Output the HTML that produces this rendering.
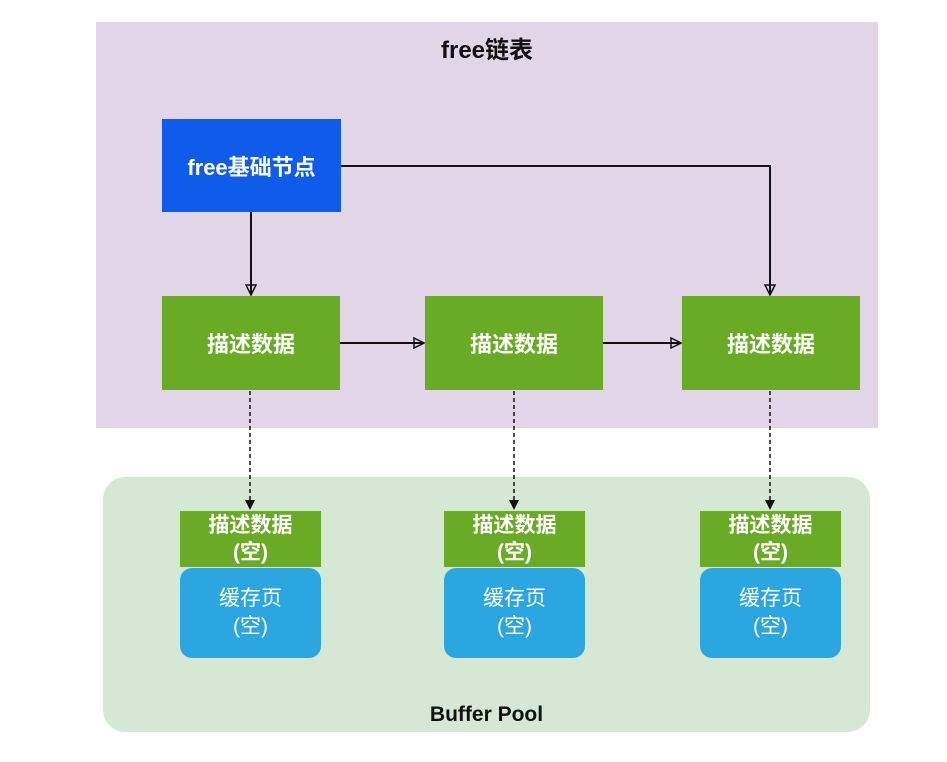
<!DOCTYPE html>
<html><head><meta charset="utf-8"><style>
body{margin:0;width:947px;height:762px;background:#fff;position:relative;overflow:hidden;font-family:"Liberation Sans","Noto Sans CJK SC",sans-serif}
.a{position:absolute;display:flex;align-items:center;justify-content:center;text-align:center;color:#fff}
</style></head><body>
<div class="a" style="left:96px;top:22px;width:782px;height:406px;background:#e1d5e7"></div>
<div class="a" style="left:103px;top:477px;width:767px;height:255px;background:#d5e8d4;border-radius:22px"></div>
<div class="a" style="left:96px;top:29px;width:782px;height:36px;color:#111;font-weight:bold;font-size:24px">free链表</div>
<div class="a" style="left:162px;top:119px;width:179px;height:93px;background:#0f5bea;font-weight:bold;font-size:22px">free基础节点</div>
<div class="a" style="left:162px;top:296px;width:178px;height:94px;background:#6aab25;font-weight:bold;font-size:22px">描述数据</div>
<div class="a" style="left:425px;top:296px;width:178px;height:94px;background:#6aab25;font-weight:bold;font-size:22px">描述数据</div>
<div class="a" style="left:682px;top:296px;width:178px;height:94px;background:#6aab25;font-weight:bold;font-size:22px">描述数据</div>

<div class="a" style="left:180px;top:511px;width:141px;height:56px;background:#6aab25;font-weight:bold;font-size:21px;line-height:27px">描述数据<br>(空)</div>
<div class="a" style="left:180px;top:568px;width:141px;height:90px;background:#2ba6e0;border-radius:12px;font-size:21px;line-height:28px">缓存页<br>(空)</div>
<div class="a" style="left:444px;top:511px;width:141px;height:56px;background:#6aab25;font-weight:bold;font-size:21px;line-height:27px">描述数据<br>(空)</div>
<div class="a" style="left:444px;top:568px;width:141px;height:90px;background:#2ba6e0;border-radius:12px;font-size:21px;line-height:28px">缓存页<br>(空)</div>
<div class="a" style="left:700px;top:511px;width:141px;height:56px;background:#6aab25;font-weight:bold;font-size:21px;line-height:27px">描述数据<br>(空)</div>
<div class="a" style="left:700px;top:568px;width:141px;height:90px;background:#2ba6e0;border-radius:12px;font-size:21px;line-height:28px">缓存页<br>(空)</div>
<div class="a" style="left:103px;top:700px;width:767px;height:30px;color:#111;font-weight:bold;font-size:21px">Buffer Pool</div>

<svg style="position:absolute;left:0;top:0" width="947" height="762">
<defs><marker id="m" markerWidth="12" markerHeight="12" refX="11" refY="6" orient="auto" markerUnits="userSpaceOnUse"><path d="M1,1 L11,6 L1,11 Z" fill="none" stroke="#111" stroke-width="1.5"/></marker>
<marker id="f" markerWidth="12" markerHeight="12" refX="11" refY="6" orient="auto" markerUnits="userSpaceOnUse"><path d="M1,1 L11,6 L1,11 Z" fill="#111"/></marker></defs>
<g stroke="#111" stroke-width="2" fill="none">
<path d="M251,212 V295" marker-end="url(#m)"/>
<path d="M341,166 H770 V295" marker-end="url(#m)"/>
<path d="M340,343 H424" marker-end="url(#m)"/>
<path d="M603,343 H681" marker-end="url(#m)"/>
</g>
<g stroke="#111" stroke-width="1.5" fill="none" stroke-dasharray="4,3">
<path d="M250,391 V510" marker-end="url(#f)"/>
<path d="M514,391 V510" marker-end="url(#f)"/>
<path d="M770,391 V510" marker-end="url(#f)"/>
</g>
</svg>
</body></html>
